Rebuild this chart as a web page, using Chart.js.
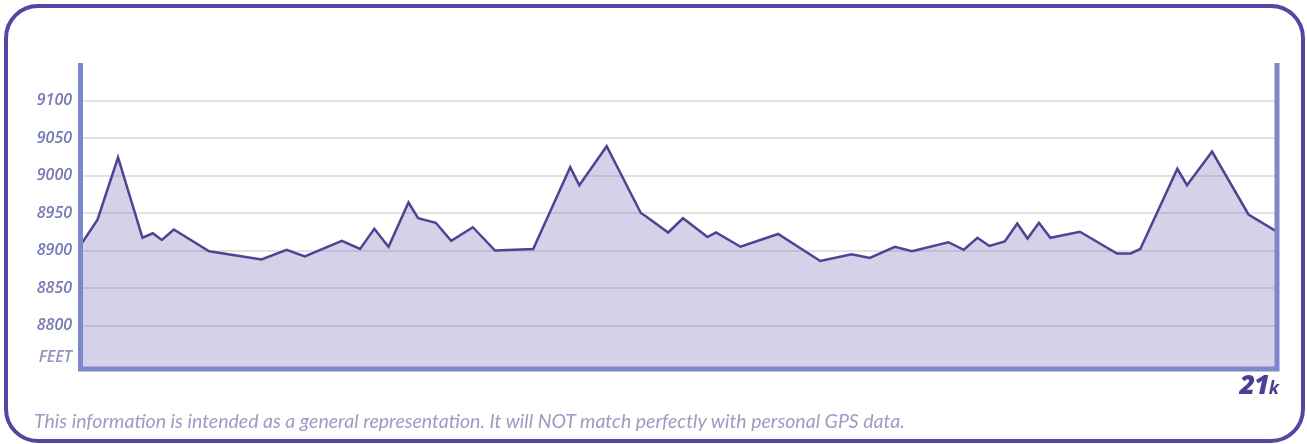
<!DOCTYPE html>
<html lang="en">
<head>
  <meta charset="UTF-8" />
  <title>21k Elevation Profile</title>
  <script src="https://cdn.jsdelivr.net/npm/chart.js"></script>
  <style>
    html, body { margin: 0; padding: 0; background: #fff; }
    .frame { position: relative; width: 1307px; height: 444px; overflow: hidden; }
    .border {
      position: absolute; left: 4px; top: 4px; width: 1293px; height: 431px;
      border: 4px solid #5547a1; border-radius: 34px;
    }
    #profile { position: absolute; left: 0; top: 0; }
    .feet {
      position: absolute; right: 1235px; top: 345px;
      font: italic 600 16px "Open Sans", sans-serif; color: #9093bf;
    }
    .dist {
      position: absolute; right: 29px; top: 365px;
      font: italic 800 27px "Open Sans", sans-serif; color: #4b3f96; letter-spacing: -1px;
    }
    .dist small { font-size: 18px; font-weight: 700; }
    .note {
      position: absolute; left: 34px; top: 409px; white-space: nowrap;
      font: italic 400 19.5px Lato, sans-serif; color: #9b9cc2;
    }
  </style>
</head>
<body>
  <div class="frame">
    <div class="border"></div>
    <canvas id="profile" width="1307" height="444"></canvas>
    <div class="feet">FEET</div>
    <div class="dist">21<small>k</small></div>
    <div class="note">This information is intended as a general representation. It will NOT match perfectly with personal GPS data.</div>
  </div>

  <script>
    // elevation profile (distance in km, elevation in feet)
    const distanceKm = [
      0, 0.29, 0.65, 1.08, 1.26, 1.42, 1.63, 2.25, 3.17, 3.61, 3.93, 4.58, 4.90, 5.15,
      5.40, 5.75, 5.92, 6.23, 6.50, 6.88, 7.27, 7.94, 8.59, 8.75, 9.23, 9.83, 9.93, 10.31,
      10.57, 11.00, 11.15, 11.58, 12.24, 12.98, 13.53, 13.85, 14.29, 14.59, 15.23, 15.50,
      15.74, 15.95, 16.22, 16.44, 16.62, 16.82, 17.02, 17.54, 18.19, 18.43, 18.60, 19.25,
      19.42, 19.86, 20.50, 21
    ];
    const elevationFt = [
      8908, 8941, 9024, 8917, 8923, 8914, 8928, 8899, 8888, 8901, 8892, 8913, 8902, 8929,
      8905, 8964, 8943, 8937, 8913, 8931, 8900, 8902, 9011, 8987, 9039, 8950, 8945, 8924,
      8943, 8918, 8924, 8905, 8922, 8886, 8895, 8890, 8905, 8899, 8911, 8901,
      8917, 8906, 8912, 8936, 8916, 8937, 8917, 8925, 8896, 8896, 8902, 9009,
      8987, 9032, 8948, 8925
    ];
    const yTicks = [8800, 8850, 8900, 8950, 9000, 9050, 9100];

    const points = distanceKm.map((d, i) => ({ x: d, y: elevationFt[i] }));

    // thick periwinkle frame on left, bottom and right of the plot
    const axisFrame = {
      id: 'axisFrame',
      afterDatasetsDraw(chart) {
        const { ctx, chartArea: a } = chart;
        ctx.save();
        ctx.strokeStyle = '#7d87c9';
        ctx.lineWidth = 5;
        ctx.lineJoin = 'miter';
        ctx.beginPath();
        ctx.moveTo(a.left - 0.5, a.top);
        ctx.lineTo(a.left - 0.5, a.bottom);
        ctx.lineTo(a.right, a.bottom);
        ctx.lineTo(a.right, a.top);
        ctx.stroke();
        ctx.restore();
      }
    };

    new Chart(document.getElementById('profile'), {
      type: 'line',
      data: {
        datasets: [{
          data: points,
          borderColor: '#4e4493',
          borderWidth: 2.5,
          backgroundColor: 'rgba(115, 102, 178, 0.3)',
          fill: 'start',
          tension: 0,
          pointRadius: 0
        }]
      },
      options: {
        responsive: false,
        animation: false,
        layout: { padding: { top: 63, right: 30, bottom: 75, left: 0 } },
        plugins: { legend: { display: false }, tooltip: { enabled: false } },
        scales: {
          x: { type: 'linear', min: 0, max: 21, display: false },
          y: {
            min: 8742,
            max: 9150,
            afterBuildTicks: s => { s.ticks = yTicks.map(v => ({ value: v })); },
            afterFit: s => { s.width = 81; },
            border: { display: false },
            grid: { color: '#e2e2e2', lineWidth: 2, drawTicks: false },
            ticks: {
              padding: 9,
              color: '#7679b4',
              callback: v => String(v),
              font: { family: 'Open Sans', style: 'italic', weight: '600', size: 16 }
            }
          }
        }
      },
      plugins: [axisFrame]
    });
  </script>
</body>
</html>
